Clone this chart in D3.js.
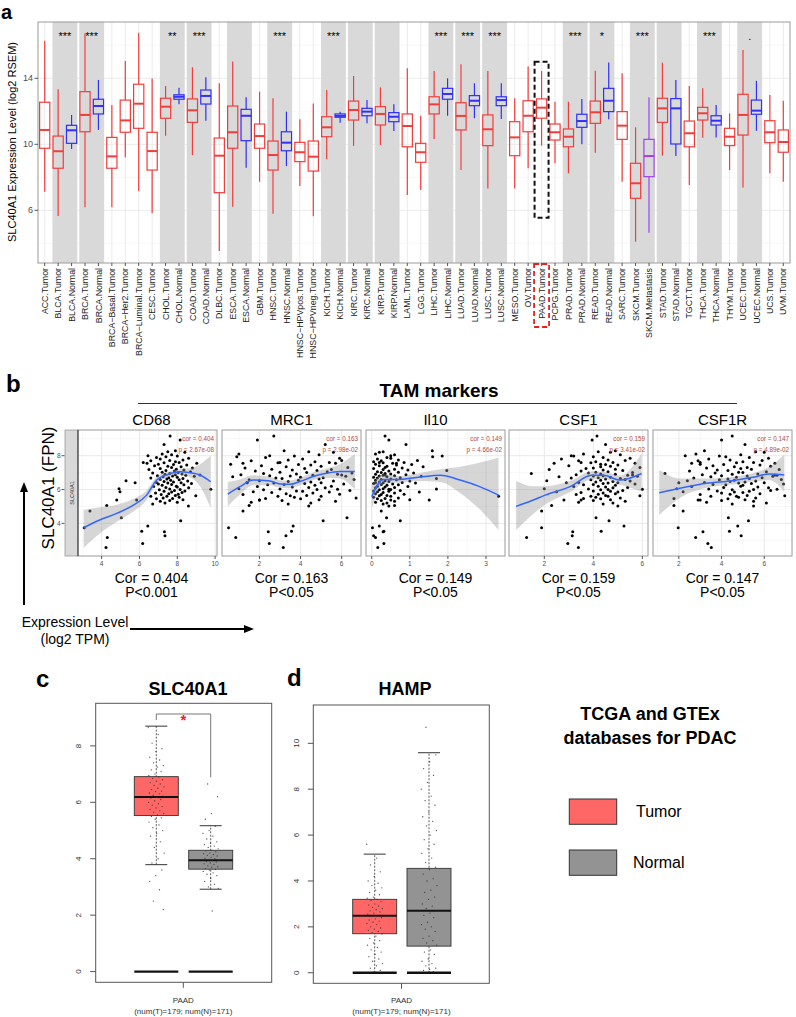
<!DOCTYPE html>
<html><head><meta charset="utf-8">
<script src="https://cdn.jsdelivr.net/npm/d3@7"></script>
<style>body{margin:0;background:#fff}svg{display:block}text{font-family:"Liberation Sans",Arial,Helvetica,sans-serif}</style>
</head><body><svg id="fig" width="796" height="1017"></svg>
<script>
// ---------------- Panel a data ----------------
const categories = ["ACC.Tumor","BLCA.Tumor","BLCA.Normal","BRCA.Tumor","BRCA.Normal","BRCA\u2212Basal.Tumor","BRCA\u2212Her2.Tumor","BRCA\u2212Luminal.Tumor","CESC.Tumor","CHOL.Tumor","CHOL.Normal","COAD.Tumor","COAD.Normal","DLBC.Tumor","ESCA.Tumor","ESCA.Normal","GBM.Tumor","HNSC.Tumor","HNSC.Normal","HNSC\u2212HPVpos.Tumor","HNSC\u2212HPVneg.Tumor","KICH.Tumor","KICH.Normal","KIRC.Tumor","KIRC.Normal","KIRP.Tumor","KIRP.Normal","LAML.Tumor","LGG.Tumor","LIHC.Tumor","LIHC.Normal","LUAD.Tumor","LUAD.Normal","LUSC.Tumor","LUSC.Normal","MESO.Tumor","OV.Tumor","PAAD.Tumor","PCPG.Tumor","PRAD.Tumor","PRAD.Normal","READ.Tumor","READ.Normal","SARC.Tumor","SKCM.Tumor","SKCM.Metastasis","STAD.Tumor","STAD.Normal","TGCT.Tumor","THCA.Tumor","THCA.Normal","THYM.Tumor","UCEC.Tumor","UCEC.Normal","UCS.Tumor","UVM.Tumor"];
const whiskerLow = [7.13,5.65,9.72,6.18,10.87,6.18,9.21,7.17,5.82,10.52,12.42,9.35,11.43,3.53,6.22,8.58,7.73,5.79,8.68,7.47,5.64,9.09,11.31,9.9,11.27,9.96,10.8,6.93,7.23,10.32,11.73,8.44,11.58,7.33,11.53,7.33,8.55,9.92,8.85,8.24,10.0,9.49,11.52,7.73,4.1,4.64,9.31,9.29,7.53,10.4,10.42,8.44,7.39,10.82,8.24,7.73];
const boxQ1 = [9.76,8.55,10.06,10.76,11.84,8.55,10.73,10.97,8.44,11.58,12.73,11.33,12.44,7.07,9.76,10.22,9.76,8.44,9.61,8.95,8.38,10.46,11.64,11.47,11.73,11.17,11.37,9.85,8.91,11.84,12.73,10.87,12.34,9.92,12.34,9.31,10.76,11.58,10.26,9.85,11.03,11.27,11.98,10.3,6.73,8.04,11.33,10.02,9.85,11.47,11.17,9.92,10.56,11.82,10.1,9.52];
const boxMedian = [10.87,9.58,10.85,11.78,12.32,9.27,11.45,12.46,9.59,12.28,12.88,12.06,12.93,9.31,10.73,11.73,10.5,9.35,10.1,9.52,9.25,11.03,11.72,12.08,11.98,11.84,11.67,11.11,9.52,12.42,13.05,11.72,12.64,10.91,12.68,10.42,11.73,12.22,10.73,10.46,11.41,11.94,12.64,11.13,7.64,9.29,12.18,12.18,10.67,11.88,11.43,10.46,11.78,12.04,10.73,10.14];
const boxQ3 = [12.55,10.5,11.15,13.19,12.73,10.42,12.68,13.64,10.73,12.79,13.0,12.75,13.29,10.38,12.32,12.12,11.23,10.2,10.76,10.12,10.2,11.67,11.84,12.62,12.18,12.28,11.92,11.84,10.06,12.88,13.39,12.52,12.95,11.78,12.88,11.37,12.64,12.75,11.23,10.93,11.82,12.62,13.39,11.98,8.85,10.3,12.79,12.77,11.41,12.24,11.73,10.97,13.03,12.68,11.43,10.87];
const whiskerHigh = [16.28,13.33,11.78,16.73,13.9,12.38,15.05,16.76,13.98,13.53,13.43,14.67,14.06,13.7,15.01,12.85,13.19,12.79,11.98,11.52,12.48,13.29,11.98,14.14,12.68,13.45,12.42,14.61,11.73,14.44,14.0,14.85,13.7,14.44,13.7,12.79,14.71,14.44,12.58,12.58,12.75,14.46,14.95,14.3,11.03,12.85,14.95,13.9,13.53,13.39,12.38,11.88,15.72,13.85,12.99,12.64];
const pairedGroups = ["BLCA","BRCA","CHOL","COAD","ESCA","HNSC","KICH","KIRC","KIRP","LIHC","LUAD","LUSC","PRAD","READ","SKCM","STAD","THCA","UCEC"];
const pairSignif = ["***","***","**","***","","***","***","","","***","***","***","***","*","***","","***","."];
const aYTicks = [6,10,14];
const aYMinor = [4,8,12,16];
const highlightCategory = "PAAD.Tumor";
const highlightRange = [5.55, 15.0];

// ---------------- Panel b data ----------------
const markers = ["CD68","MRC1","Il10","CSF1","CSF1R"];
const markerCorText = ["cor = 0.404","cor = 0.163","cor = 0.149","cor = 0.159","cor = 0.147"];
const markerPText = ["p = 2.67e-08","p = 2.98e-02","p = 4.66e-02","p = 3.41e-02","p = 4.89e-02"];
const markerCorLabel = ["Cor = 0.404","Cor = 0.163","Cor = 0.149","Cor = 0.159","Cor = 0.147"];
const markerPLabel = ["P<0.001","P<0.05","P<0.05","P<0.05","P<0.05"];
const markerXLimits = [[2.75,10.1],[0.18,6.94],[-0.15,3.5],[0.56,6.23],[0.79,7.3]];
const markerXTicks = [[4,6,8,10],[2,4,6],[0,1,2,3],[2,4,6],[2,4,6]];
const bYLimits = [2.07,9.52];
const bYTicks = [4,6,8];

const slc40a1 = [2.57,2.81,3.17,3.26,3.5,3.54,3.74,3.84,4.15,4.33,4.73,5.06,5.02,5.38,
 9.17,8.93,8.67,8.3,8.24,8.2,8.1,8.05,7.98,7.94, 7.9,7.85,7.8,7.75,7.72,7.7,7.65,7.6,7.58,7.55,
 7.5,7.48,7.45,7.4,7.38,7.35,7.3,7.28,7.25,7.2, 7.18,7.15,7.12,7.1,7.05,7.02,7.0,6.98,6.95,6.92,
 6.9,6.88,6.85,6.82,6.8,6.78,6.75,6.72,6.7,6.68, 6.65,6.62,6.6,6.58,6.55,6.52,6.5,6.48,6.45,6.42,
 6.4,6.38,6.35,6.32,6.3,6.28,6.25,6.2,6.18,6.15, 6.12,6.1,6.05,6.03,6.0,5.98,5.95,5.92,5.9,5.87,
 5.85,5.82,5.8,5.75,5.72,5.7,5.65,5.63,5.6,5.6, 5.55,5.5,5.47,5.45,5.4,5.38,5.35,5.3,5.25,5.2,
 5.15,8.0,7.6,6.4,6.86,7.55,6.01];
const cd68 = [4.23,6.17,4.3,7.35,7.32,6.12,3.08,6.44,8.18,5.04,3.38,4.27,8.59,4.8,
 7.62,8.15,7.3,7.9,7.5,8.4,7.2,7.7,8.0,7.4, 6.9,8.6,7.1,8.3,7.6,6.6,7.9,8.1,7.3,9.03,
 7.0,7.8,8.5,6.8,7.5,8.2,7.7,8.8,7.1,7.95, 6.5,8.35,7.4,7.85,8.7,7.2,8.05,6.7,7.6,8.25,
 7.35,7.9,8.45,6.95,7.75,8.9,7.25,8.0,7.55,6.6, 8.3,7.45,7.1,8.1,7.65,5.29,8.55,7.3,7.8,6.9,
 8.2,7.5,8.75,7.0,7.7,8.35,7.2,7.95,6.75,8.0, 7.4,8.6,4.92,7.6,8.15,7.05,7.85,8.4,7.3,4.97,
 7.7,8.25,6.85,7.55,8.05,7.15,7.9,8.98,6.6,7.45, 8.1,7.25,7.75,6.9,8.3,5.85,7.6,7.1,8.0,7.35,
 6.7,6.45,6.2,5.77,9.2,6.4,9.77];
const mrc1 = [3.16,2.48,0.85,3.29,2.43,3.56,0.5,3.64,5.1,6.26,1.2,1.5,4.4,2.0,
 2.7,1.9,5.2,3.2,4.4,5.6,1.0,4.9,3.7,0.9, 2.3,5.9,4.1,3.4,6.0,1.6,4.7,5.4,2.9,5.7,
 0.6,3.9,4.5,2.1,5.0,3.3,6.3,1.3,4.2,2.6, 5.5,3.6,4.8,1.8,5.3,3.0,4.3,6.5,2.2,3.8,
 5.8,1.1,4.6,2.5,3.5,6.2,0.7,4.0,5.1,2.8, 3.1,4.9,6.6,1.5,3.9,2.0,5.6,3.4,4.5,1.4,
 5.0,2.7,4.2,6.1,3.2,2.4,4.7,5.5,1.9,3.6, 4.4,5.2,1.0,3.0,4.8,2.2,6.4,3.8,4.1,1.7,
 5.4,2.6,4.6,3.3,5.9,1.2,4.3,3.5,2.9,5.0, 3.7,6.7,2.3,4.0,4.9,2.0,3.1,5.7,1.6,4.5,
 3.4,2.5,3.0,1.4,6.0,1.2,5.8];
const il10 = [0.16,0.32,0.1,0.05,0.3,0.32,0.02,0.2,0.75,0.39,0.25,0.6,0.45,1.51,
 0.35,0.45,0.9,1.59,0.3,0.2,0.1,0.6,1.85,1.6, 0.4,0.5,0.15,0.7,1.2,0.25,0.05,0.85,0.3,0.55,
 0.1,1.05,0.65,0.2,0.4,1.35,0.35,0.8,0.05,0.6, 0.3,0.95,1.97,0.45,0.15,0.7,0.25,1.1,0.35,0.5,
 0.1,0.9,0.3,0.6,0.2,1.3,0.4,0.05,0.75,0.15, 1.7,0.5,0.25,0.65,0.1,0.35,1.0,0.45,0.2,0.8,
 0.3,1.15,0.05,0.55,0.25,0.7,0.4,0.15,0.95,0.35, 0.6,0.1,0.3,1.7,0.5,0.2,0.75,0.05,0.45,0.15,
 1.25,0.3,0.6,0.1,0.85,0.25,0.4,0.2,3.33,0.5, 0.05,0.7,0.35,0.15,1.0,0.5,0.25,0.6,0.1,0.4,
 0.3,0.5,0.2,0.1,0.35,0.65,0.45];
const csf1 = [3.39,2.96,1.28,3.14,3.16,4.32,1.89,5.25,4.64,4.11,1.89,2.3,5.0,3.5,
 4.15,3.95,4.5,4.9,4.2,4.7,3.6,5.1,3.2,4.0, 4.4,5.5,2.7,4.6,5.3,3.4,4.1,4.8,3.9,5.7,
 4.3,4.5,5.0,3.0,4.7,4.3,5.9,4.0,3.7,4.9, 2.2,4.4,5.2,3.5,4.6,4.1,5.6,3.8,1.47,4.3,
 4.9,3.3,5.4,4.4,4.0,5.8,2.6,4.7,4.2,3.1, 5.1,4.5,5.3,3.9,4.3,2.1,5.5,4.8,4.1,3.4,
 5.0,4.6,4.4,5.7,4.0,3.6,4.9,4.2,3.2,4.5, 5.4,4.8,2.0,3.8,4.6,4.3,5.2,4.0,4.7,2.5,
 5.0,3.5,4.4,4.9,4.2,3.3,4.5,5.9,3.9,4.6, 4.1,5.1,3.6,4.3,4.7,2.8,4.0,5.3,3.4,4.8,
 4.4,3.1,3.5,2.9,5.6,2.4,6.0];
const csf1r = [3.52,3.36,2.79,4.92,3.13,4.37,1.97,4.76,5.26,4.32,2.2,1.77,5.5,3.0,
 4.5,4.0,5.1,3.2,5.6,6.0,2.8,4.9,3.9,4.2, 5.3,6.2,3.4,4.4,5.9,2.9,5.0,5.5,4.7,6.5,
 3.0,4.1,5.8,3.6,6.3,4.6,5.2,3.3,4.9,5.4, 6.7,3.8,4.3,2.5,6.1,4.8,5.0,3.7,1.35,5.7,
 4.5,3.1,6.6,4.0,5.2,6.4,3.5,4.7,5.9,2.7, 5.3,4.3,6.8,3.9,4.6,2.4,5.6,4.4,5.1,3.2,
 6.0,4.8,5.4,6.9,3.6,4.2,5.0,4.9,2.6,5.7, 4.1,6.2,1.9,3.4,5.5,4.5,6.3,3.8,5.3,2.2,
 4.6,5.0,4.0,5.8,4.4,3.0,5.2,6.96,4.7,3.5, 4.8,5.6,1.77,4.3,5.1,2.9,4.0,5.5,3.3,6.1,
 4.5,2.3,3.0,2.0,6.5,2.6,6.6];
// loess fits [x, fit, lower, upper]
const cd68Fit = [[3.05,3.74,2.55,4.8],[3.9,4.2,3.4,4.95],[4.8,4.59,4.1,5.1],[5.68,5.08,4.7,5.45],[6.38,5.67,5.38,5.95],[6.91,6.56,6.35,6.75],[7.44,6.86,6.7,7.02],[8.15,7.05,6.88,7.22],[8.68,6.99,6.72,7.26],[9.2,6.86,6.2,7.5],[9.77,6.46,4.9,8.0]];
const mrc1Fit = [[0.46,5.73,5.0,6.45],[1.05,6.17,5.7,6.6],[1.7,6.56,6.25,6.85],[2.51,6.5,6.25,6.75],[3.0,6.33,6.1,6.55],[3.48,6.31,6.08,6.54],[3.97,6.47,6.25,6.7],[4.61,6.77,6.55,7.0],[5.26,6.96,6.7,7.25],[5.91,7.06,6.65,7.5],[6.64,7.06,6.0,8.1]];
const il10Fit = [[0.0,5.57,4.9,6.25],[0.3,6.59,6.3,6.9],[0.74,6.6,6.4,6.8],[1.27,6.74,6.5,6.98],[1.8,6.84,6.45,7.2],[2.32,6.56,5.8,7.35],[2.85,6.16,4.8,7.6],[3.33,5.67,3.6,7.9]];
const csf1Fit = [[0.85,5.0,3.6,6.5],[1.5,5.35,4.5,6.2],[2.03,5.67,5.1,6.2],[3.05,6.17,5.85,6.5],[3.93,6.84,6.6,7.08],[4.41,6.84,6.62,7.05],[5.09,6.56,6.3,6.82],[5.97,6.95,5.88,8.14]];
const csf1rFit = [[1.08,5.81,4.49,7.15],[2.05,6.07,5.5,6.65],[3.29,6.37,6.1,6.65],[4.53,6.52,6.3,6.74],[5.46,6.72,6.48,6.96],[6.24,6.92,6.55,7.35],[6.94,6.86,5.88,8.06]];

// ---------------- Panels c, d data ----------------
const gepiaGenes = ["SLC40A1","HAMP"];
const gepiaTumorStats = [[3.79,5.53,6.19,6.91,8.7],[0,1.7,2.48,3.2,5.17]];
const gepiaNormalStats = [[2.92,3.63,3.95,4.3,5.17],[0,1.16,2.7,4.55,9.59]];
const gepiaYTicks = [[0,2,4,6,8],[0,2,4,6,8,10]];
const gepiaYLimits = [[-0.38,9.51],[-0.46,11.67]];
const slcTumorPts = [8.65,8.4,8.1,7.9,7.8,7.6,7.5,7.4,7.3,7.25,7.15,7.1,7.0,6.95,6.9,6.85,6.8,6.75,6.7,6.65,6.6,6.55,6.5,6.45,6.4,6.38,6.33,6.3,6.25,6.22,6.18,6.15,6.1,6.05,6.0,5.95,5.9,5.85,5.8,5.75,5.7,5.65,5.6,5.55,5.5,5.45,5.4,5.3,5.2,5.1,5.0,4.9,4.8,4.6,4.4,4.2,4.0,3.85,3.6,3.4,3.2,2.9,2.5,2.2];
const slcNormalPts = [6.65,6.2,5.6,5.4,5.15,5.0,4.9,4.8,4.7,4.6,4.55,4.5,4.45,4.4,4.35,4.3,4.28,4.25,4.2,4.18,4.15,4.12,4.1,4.05,4.02,4.0,3.98,3.95,3.93,3.9,3.88,3.85,3.82,3.8,3.75,3.72,3.7,3.65,3.62,3.6,3.55,3.5,3.45,3.4,3.3,3.2,3.1,3.0,2.95,2.15];
const hampTumorPts = [5.6,5.0,4.7,4.4,4.2,4.0,3.9,3.8,3.7,3.6,3.5,3.4,3.3,3.25,3.2,3.15,3.1,3.0,2.95,2.9,2.85,2.8,2.75,2.7,2.65,2.6,2.55,2.5,2.45,2.4,2.35,2.3,2.25,2.2,2.15,2.1,2.0,1.95,1.9,1.85,1.8,1.75,1.7,1.6,1.5,1.4,1.3,1.2,1.1,1.0,0.9,0.8,0.7,0.6,0.5,0.4,0.3,0.2,0.1,0.05,0.02];
const hampNormalPts = [10.7,9.5,9.2,8.9,8.6,8.3,8.0,7.7,7.5,7.3,7.0,6.8,6.6,6.4,6.2,6.0,5.8,5.6,5.4,5.2,5.0,4.8,4.6,4.5,4.3,4.1,4.0,3.8,3.6,3.5,3.3,3.2,3.0,2.9,2.8,2.7,2.6,2.5,2.4,2.2,2.1,2.0,1.9,1.8,1.6,1.5,1.4,1.3,1.2,1.0,0.9,0.8,0.6,0.5,0.4,0.3,0.2,0.15,0.1,0.05];
const legendLabels = ["Tumor","Normal"];

// =========================================================
const svg = d3.select("#fig");
function txt(g,x,y,s,o){const t=g.append("text").attr("x",x).attr("y",y).text(s);o=o||{};
  t.style("font-size",(o.size||10)+"px").attr("fill",o.fill||"#000");
  if(o.anchor)t.attr("text-anchor",o.anchor); if(o.weight)t.style("font-weight",o.weight);
  if(o.rotate!==undefined)t.attr("transform",`rotate(${o.rotate},${x},${y})`);
  if(o.dy)t.attr("dy",o.dy); return t;}

// ---------------- Panel a ----------------
const aL=38,aR=790,aT=22,aB=263;
const gA = svg.append("g");
const xA = d3.scaleBand().domain(categories).range([aL,aR]);
const yA = d3.scaleLinear().domain([2.81,17.41]).range([aB,aT]);
const bw = xA.bandwidth();
gA.append("rect").attr("x",aL).attr("y",aT).attr("width",aR-aL).attr("height",aB-aT).attr("fill","#fff");
aYMinor.forEach(v=>gA.append("line").attr("x1",aL).attr("x2",aR).attr("y1",yA(v)).attr("y2",yA(v)).attr("stroke","#f3f3f3").attr("stroke-width",0.6));
aYTicks.forEach(v=>gA.append("line").attr("x1",aL).attr("x2",aR).attr("y1",yA(v)).attr("y2",yA(v)).attr("stroke","#ebebeb").attr("stroke-width",1));
categories.forEach(c=>{const cx=xA(c)+bw/2;gA.append("line").attr("x1",cx).attr("x2",cx).attr("y1",aT).attr("y2",aB).attr("stroke","#ebebeb").attr("stroke-width",1);});
pairedGroups.forEach((grp,k)=>{
  const first = categories.find(c=>c.startsWith(grp+"."));
  const x0 = xA(first)+1, x1 = xA(first)+2*bw-1;
  gA.append("rect").attr("x",x0).attr("y",aT).attr("width",x1-x0).attr("height",aB-aT).attr("fill","#d9d9d9");
  if(pairSignif[k]) txt(gA,(x0+x1)/2,39.5,pairSignif[k],{size:11,anchor:"middle"});
});
categories.forEach((c,i)=>{
  const cx = xA(c)+bw/2, w = bw*0.76;
  const col = c.endsWith("Normal") ? "#2f2fff" : c.endsWith("Metastasis") ? "#a040f0" : "#f23c3c";
  const g = gA.append("g").attr("stroke",col).attr("fill","none");
  g.append("line").attr("x1",cx).attr("x2",cx).attr("y1",yA(whiskerLow[i])).attr("y2",yA(boxQ1[i])).attr("stroke-width",1.2);
  g.append("line").attr("x1",cx).attr("x2",cx).attr("y1",yA(boxQ3[i])).attr("y2",yA(whiskerHigh[i])).attr("stroke-width",1.2);
  g.append("rect").attr("x",cx-w/2).attr("y",yA(boxQ3[i])).attr("width",w).attr("height",yA(boxQ1[i])-yA(boxQ3[i])).attr("stroke-width",1.2);
  g.append("line").attr("x1",cx-w/2).attr("x2",cx+w/2).attr("y1",yA(boxMedian[i])).attr("y2",yA(boxMedian[i])).attr("stroke-width",2);
});
gA.append("rect").attr("x",aL).attr("y",aT).attr("width",aR-aL).attr("height",aB-aT).attr("fill","none").attr("stroke","#9a9a9a").attr("stroke-width",1);
aYTicks.forEach(v=>{gA.append("line").attr("x1",aL-3.5).attr("x2",aL).attr("y1",yA(v)).attr("y2",yA(v)).attr("stroke","#555");
  txt(gA,aL-5,yA(v),String(v),{size:9,anchor:"end",fill:"#4d4d4d",dy:"0.35em"});});
categories.forEach(c=>{const cx=xA(c)+bw/2;
  gA.append("line").attr("x1",cx).attr("x2",cx).attr("y1",aB).attr("y2",aB+3).attr("stroke","#555");
  txt(gA,cx,aB+5,c,{size:8.8,anchor:"end",rotate:-90,dy:"0.35em",fill:"#1a1a1a"});});
txt(gA,16,142,"SLC40A1 Expression Level (log2 RSEM)",{size:11,anchor:"middle",rotate:-90});
// highlight PAAD
{const cx=xA(highlightCategory)+bw/2;
 gA.append("rect").attr("x",cx-7).attr("y",yA(highlightRange[1])).attr("width",14).attr("height",yA(highlightRange[0])-yA(highlightRange[1]))
  .attr("fill","none").attr("stroke","#111").attr("stroke-width",2).attr("stroke-dasharray","5,3");
 gA.append("rect").attr("x",cx-7.5).attr("y",aB+1).attr("width",15).attr("height",63)
  .attr("fill","none").attr("stroke","#e8201c").attr("stroke-width",1.8).attr("stroke-dasharray","5,3");}
txt(svg,1,18.5,"a",{size:20,weight:"bold"});

// ---------------- Panel b ----------------
const gB = svg.append("g");
txt(gB,6,392,"b",{size:24,weight:"bold"});
txt(gB,439,397,"TAM markers",{size:19,weight:"bold",anchor:"middle"});
gB.append("line").attr("x1",138).attr("x2",737).attr("y1",403.5).attr("y2",403.5).attr("stroke","#333").attr("stroke-width",1.2);
const bT=430,bBot=556,bW=139;
const bLefts=[78,222,366,509,653];
const yB = d3.scaleLinear().domain(bYLimits).range([bBot,bT]);
const xSeries=[cd68,mrc1,il10,csf1,csf1r];
const fits=[cd68Fit,mrc1Fit,il10Fit,csf1Fit,csf1rFit];
// strip
gB.append("rect").attr("x",65).attr("y",bT).attr("width",13).attr("height",bBot-bT).attr("fill","#d9d9d9").attr("stroke","#9a9a9a").attr("stroke-width",0.8);
txt(gB,72,493,"SLC40A1",{size:5.5,anchor:"middle",rotate:-90,dy:"0.35em",fill:"#333"});
bYTicks.forEach(v=>{gB.append("line").attr("x1",61.5).attr("x2",64.5).attr("y1",yB(v)).attr("y2",yB(v)).attr("stroke","#555");
  txt(gB,60.5,yB(v),String(v),{size:6.5,anchor:"end",dy:"0.35em",fill:"#4d4d4d"});});
markers.forEach((m,k)=>{
  const L=bLefts[k];
  const xB=d3.scaleLinear().domain(markerXLimits[k]).range([L,L+bW]);
  const g=gB.append("g");
  const clipId="clip"+k;
  g.append("clipPath").attr("id",clipId).append("rect").attr("x",L).attr("y",bT).attr("width",bW).attr("height",bBot-bT);
  g.append("rect").attr("x",L).attr("y",bT).attr("width",bW).attr("height",bBot-bT).attr("fill","#fff");
  const xt=markerXTicks[k], step=xt[1]-xt[0];
  const minorX=[]; for(let v=xt[0]-step/2; v<markerXLimits[k][1]; v+=step) if(v>markerXLimits[k][0]) minorX.push(v);
  minorX.forEach(v=>g.append("line").attr("x1",xB(v)).attr("x2",xB(v)).attr("y1",bT).attr("y2",bBot).attr("stroke","#f2f2f2").attr("stroke-width",0.6));
  [3,5,7,9].forEach(v=>g.append("line").attr("x1",L).attr("x2",L+bW).attr("y1",yB(v)).attr("y2",yB(v)).attr("stroke","#f2f2f2").attr("stroke-width",0.6));
  xt.forEach(v=>{if(xB(v)<=L+bW) g.append("line").attr("x1",xB(v)).attr("x2",xB(v)).attr("y1",bT).attr("y2",bBot).attr("stroke","#e6e6e6").attr("stroke-width",0.9);});
  bYTicks.forEach(v=>g.append("line").attr("x1",L).attr("x2",L+bW).attr("y1",yB(v)).attr("y2",yB(v)).attr("stroke","#e6e6e6").attr("stroke-width",0.9));
  const gc=g.append("g").attr("clip-path",`url(#${clipId})`);
  const xs=xSeries[k];
  gc.selectAll("circle").data(d3.range(xs.length)).join("circle")
    .attr("cx",i=>xB(xs[i])).attr("cy",i=>yB(slc40a1[i])).attr("r",1.5).attr("fill","#000");
  const f=fits[k];
  gc.append("path").attr("d",d3.area().x(d=>xB(d[0])).y0(d=>yB(d[2])).y1(d=>yB(d[3])).curve(d3.curveMonotoneX)(f))
    .attr("fill","#999").attr("fill-opacity",0.4);
  gc.append("path").attr("d",d3.line().x(d=>xB(d[0])).y(d=>yB(d[1])).curve(d3.curveMonotoneX)(f))
    .attr("fill","none").attr("stroke","#3366ff").attr("stroke-width",1.5);
  g.append("rect").attr("x",L).attr("y",bT).attr("width",bW).attr("height",bBot-bT).attr("fill","none").attr("stroke","#9a9a9a").attr("stroke-width",1);
  if(k===0) g.append("line").attr("x1",L).attr("x2",L).attr("y1",bT).attr("y2",bBot).attr("stroke","#333").attr("stroke-width",1);
  xt.forEach(v=>{ if(xB(v)<=L+bW+0.5){
    g.append("line").attr("x1",xB(v)).attr("x2",xB(v)).attr("y1",bBot).attr("y2",bBot+3).attr("stroke","#555");
    txt(g,xB(v),bBot+9.5,String(v),{size:6.5,anchor:"middle",fill:"#4d4d4d"});}});
  txt(g,L+bW-3,441,markerCorText[k],{size:6.3,anchor:"end",fill:"#b5483f"});
  txt(g,L+bW-3,452,markerPText[k],{size:6.3,anchor:"end",fill:"#b5483f"});
  txt(g,L+bW/2+(k===0?4:0),425,m,{size:15,anchor:"middle"});
  txt(g,L+bW/2+(k===0?4:0),582.5,markerCorLabel[k],{size:14,anchor:"middle"});
  txt(g,L+bW/2+(k===0?4:0),597,markerPLabel[k],{size:14,anchor:"middle"});
});
txt(gB,54,488,"SLC40A1 (FPN)",{size:17,anchor:"middle",rotate:-90});
gB.append("line").attr("x1",24).attr("x2",24).attr("y1",605).attr("y2",490).attr("stroke","#000").attr("stroke-width",2);
gB.append("path").attr("d","M24,482 L20,492 L28,492 Z").attr("fill","#000");
txt(gB,75,627,"Expression Level",{size:14,anchor:"middle"});
txt(gB,75,644,"(log2 TPM)",{size:14,anchor:"middle"});
gB.append("line").attr("x1",130).attr("x2",245).attr("y1",629).attr("y2",629).attr("stroke","#000").attr("stroke-width",2);
gB.append("path").attr("d","M254,629 L244,625 L244,633 Z").attr("fill","#000");

// ---------------- Panels c, d ----------------
const tumorFill="#ff6666", normalFill="#939393";
const cdFrames=[{L:95.7,R:271.7,T:703.3,B:982.3,tc:156.3,nc:210.7,bw:44,lab:78.5,title:188,xt:183.3},
                {L:313.3,R:489.3,T:705,B:983.3,tc:374.7,nc:429,bw:44,lab:296,title:405,xt:401.5}];
const ptSets=[[slcTumorPts,slcNormalPts],[hampTumorPts,hampNormalPts]];
gepiaGenes.forEach((gene,k)=>{
  const F=cdFrames[k]; const g=svg.append("g");
  const y=d3.scaleLinear().domain(gepiaYLimits[k]).range([F.B,F.T]);
  txt(g,F.title,695,gene,{size:18,weight:"bold",anchor:"middle"});
  const stats=[gepiaTumorStats[k],gepiaNormalStats[k]], centers=[F.tc,F.nc], fills=[tumorFill,normalFill];
  stats.forEach((s,j)=>{
    const cx=centers[j], hw=F.bw/2;
    g.append("line").attr("x1",cx).attr("x2",cx).attr("y1",y(s[0])).attr("y2",y(s[4])).attr("stroke","#333").attr("stroke-width",0.8).attr("stroke-dasharray","2,1.5");
    g.append("line").attr("x1",cx-11).attr("x2",cx+11).attr("y1",y(s[4])).attr("y2",y(s[4])).attr("stroke","#333").attr("stroke-width",1);
    g.append("line").attr("x1",cx-11).attr("x2",cx+11).attr("y1",y(s[0])).attr("y2",y(s[0])).attr("stroke","#333").attr("stroke-width",1);
    g.append("rect").attr("x",cx-hw).attr("y",y(s[3])).attr("width",F.bw).attr("height",y(s[1])-y(s[3])).attr("fill",fills[j]).attr("stroke","#333").attr("stroke-width",0.9);
    g.append("line").attr("x1",cx-hw).attr("x2",cx+hw).attr("y1",y(s[2])).attr("y2",y(s[2])).attr("stroke","#111").attr("stroke-width",2);
    g.append("line").attr("x1",cx-hw).attr("x2",cx+hw).attr("y1",y(0)).attr("y2",y(0)).attr("stroke","#111").attr("stroke-width",2.4);
    const pts=ptSets[k][j];
    g.selectAll(null).data(pts).join("circle")
      .attr("cx",(d,i)=>cx+(((i*0.6180339887+0.31*j)%1)-0.5)*16).attr("cy",d=>y(d)).attr("r",0.65).attr("fill","#333").attr("opacity",0.85);
  });
  g.append("rect").attr("x",F.L).attr("y",F.T).attr("width",F.R-F.L).attr("height",F.B-F.T).attr("fill","none").attr("stroke","#555").attr("stroke-width",1);
  gepiaYTicks[k].forEach(v=>{
    g.append("line").attr("x1",F.L-5.5).attr("x2",F.L).attr("y1",y(v)).attr("y2",y(v)).attr("stroke","#555");
    txt(g,F.lab,y(v),String(v),{size:8,anchor:"middle",rotate:-90,dy:"0.35em",fill:"#333"});});
  g.append("line").attr("x1",F.xt).attr("x2",F.xt).attr("y1",F.B).attr("y2",F.B+5.5).attr("stroke","#555");
  txt(g,F.xt,1002.5,"PAAD",{size:8,anchor:"middle",fill:"#333"});
  txt(g,F.xt,1013.5,"(num(T)=179; num(N)=171)",{size:8,anchor:"middle",fill:"#333"});
  if(k===0){
    g.append("path").attr("d",`M${F.tc},720 V714 H${F.nc} V777.3`).attr("fill","none").attr("stroke","#777").attr("stroke-width",1);
    txt(g,(F.tc+F.nc)/2,725,"*",{size:15,weight:"bold",anchor:"middle",fill:"#ee1c1c"});
  }
});
txt(svg,36,687,"c",{size:24,weight:"bold"});
txt(svg,287,686,"d",{size:24,weight:"bold"});
// legend
const gL=svg.append("g");
txt(gL,650,720,"TCGA and GTEx",{size:18,weight:"bold",anchor:"middle"});
txt(gL,650,743.5,"databases for PDAC",{size:18,weight:"bold",anchor:"middle"});
const legendFills=[tumorFill,normalFill], legendY=[799,850], legendTx=[636,633];
legendLabels.forEach((l,i)=>{
  gL.append("rect").attr("x",569.3).attr("y",legendY[i]).attr("width",47.4).attr("height",25.3).attr("fill",legendFills[i]).attr("stroke","#333").attr("stroke-width",1);
  txt(gL,legendTx[i],legendY[i]+18,l,{size:16});
});
</script></body></html>
